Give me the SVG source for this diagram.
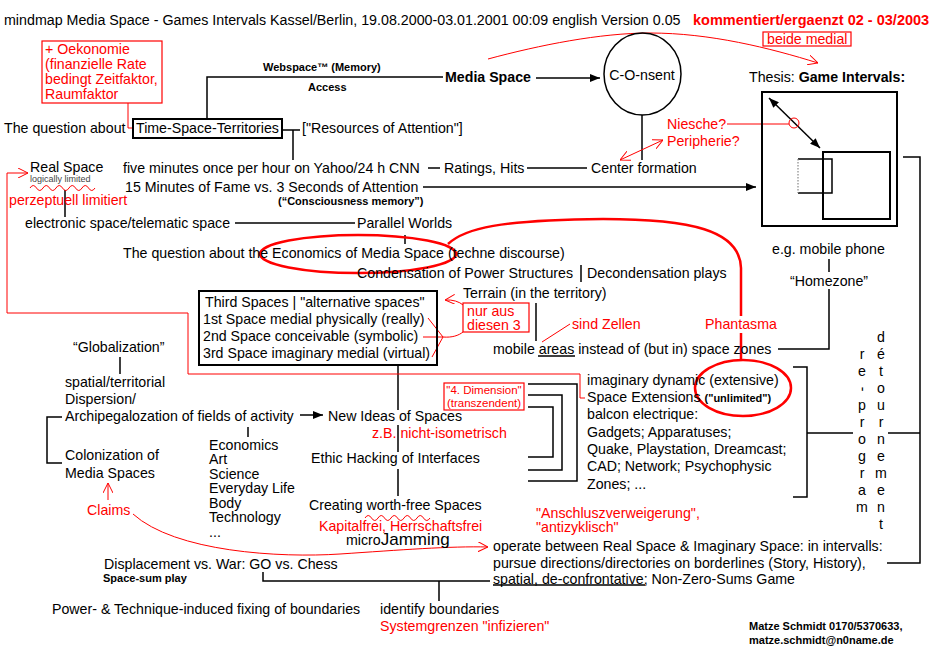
<svg xmlns="http://www.w3.org/2000/svg" width="936" height="658" viewBox="0 0 936 658">
<defs>
<style>
text{font-family:"Liberation Sans",Arial,Helvetica,sans-serif;font-size:14.2px;fill:#000}
.r{fill:#f00}
.b{font-weight:bold}
.tt{font-size:14.25px}
.rt{font-size:14.5px;font-weight:bold;fill:#f00}
.s{font-size:11px;font-weight:bold}
.d{font-size:11.5px}
.xs{font-size:9px;fill:#444}
.m{text-anchor:middle}
.ln{stroke:#000;stroke-width:1.5;fill:none}
.bx{stroke:#000;stroke-width:2;fill:none}
.rl{stroke:#f00;stroke-width:1;fill:none}
.re{stroke:#f00;stroke-width:2.5;fill:none}
.rb{stroke:#f00;stroke-width:1.2;fill:#fff}
</style>
<marker id="ah" viewBox="0 0 10 8" refX="10" refY="4" markerWidth="10" markerHeight="8" markerUnits="userSpaceOnUse" orient="auto-start-reverse"><path d="M0,0 L10,4 L0,8 z" fill="#000"/></marker>
<marker id="ra" viewBox="0 0 10 10" refX="10" refY="5" markerWidth="10" markerHeight="10" markerUnits="userSpaceOnUse" orient="auto-start-reverse"><path d="M0,0 L10,5 L0,10" fill="none" stroke="#f00" stroke-width="1"/></marker>
</defs>
<rect width="936" height="658" fill="#fff"/>

<g id="connectors">
<path class="ln" d="M207,119 V77 H443"/>
<path class="ln" d="M536,78 H600" marker-end="url(#ah)"/>
<path class="ln" d="M642,115 V160"/>
<path class="ln" d="M283,130 H300 M293,130 V160"/>
<path class="ln" d="M428,168 H440"/>
<path class="ln" d="M527,168 H587"/>
<path class="ln" d="M423,187 H756" marker-end="url(#ah)"/>
<path class="ln" d="M65,190 V217"/>
<path class="ln" d="M235,223 H355"/>
<path class="ln" d="M405,235 V244"/>
<path class="ln" d="M581,265 V282"/>
<path class="ln" d="M829,259 V272"/>
<path class="ln" d="M829,289 V349 H778"/>
<path class="ln" d="M536,303 V341"/>
<path class="ln" d="M398,365 V410 M398,425 V452 M398,469 V496"/>
<path class="ln" d="M120,357 V374"/>
<path class="ln" d="M300,415 H323" marker-end="url(#ah)"/>
<path class="ln" d="M62,417 H47 V463 H62"/>
<path class="ln" d="M248,427 V437"/>
<path class="ln" d="M528,384 H577 V481 H528 M528,395 H562 V470 H528 M528,407 H553 V457 H528"/>
<path class="ln" d="M793,367 H807 V497 H793 M807,433 H853"/>
<path class="ln" d="M888,433 H920 M903,157 H920 V563 H887"/>
<path class="ln" d="M263,572 V581 H490 M439,581 V601"/>
<path class="ln" d="M769,98 L820,148" marker-start="url(#ah)" marker-end="url(#ah)"/>
<path class="ln" d="M538,356 H575 M493,585 H645"/>
</g>

<g id="red-connectors">
<path class="rl" d="M128,103 V128 H133"/>
<path class="rl" d="M488,59 C540,45 600,33 650,33 C710,33 770,48 818,63" marker-end="url(#ra)"/>
<path class="rl" d="M727,124 H789"/>
<circle class="rl" cx="794" cy="123" r="5"/>
<path class="rl" d="M620,160 L663,140" marker-start="url(#ra)" marker-end="url(#ra)"/>
<path class="rl" d="M28,173 H7 V313 H188 V374 H580 V398 H585" marker-start="url(#ra)"/>
<ellipse class="re" cx="358" cy="254" rx="98" ry="19"/>
<path class="re" d="M448,244 C465,228 500,220 603,219 C690,219 740,230 741,268 V316 M741,333 V360"/>
<ellipse class="re" cx="743" cy="388" rx="48" ry="28"/>
<path class="rl" d="M428,318 L443,337 M423,337 H443 M432,357 L443,337"/>
<path class="rl" d="M443,337 C478,340 478,298 445,300" marker-end="url(#ra)"/>
<path class="rl" d="M542,342 L570,324"/>
<path class="rl" d="M108,500 V483" marker-end="url(#ra)"/>
<path class="rl" d="M133,514 C175,552 280,558 340,554 C400,550 450,546 488,547" marker-end="url(#ra)"/>
<path class="rl" d="M30,188 q3.25,-5 6.5,0 t6.5,0 t6.5,0 t6.5,0 t6.5,0 t6.5,0 t6.5,0 t6.5,0 t6.5,0 t6.5,0"/>
<path class="rl" d="M365,518 q3.25,-5 6.5,0 t6.5,0 t6.5,0 t6.5,0 t6.5,0 t6.5,0 t6.5,0 t6.5,0 t6.5,0 t6.5,0"/>
</g>

<g id="title">
<text class="tt" x="4" y="25">mindmap Media Space - Games Intervals Kassel/Berlin, 19.08.2000-03.01.2001 00:09 english Version 0.05</text>
<text class="rt" x="693" y="25">kommentiert/ergaenzt 02 - 03/2003</text>
</g>

<g id="oekonomie">
<rect class="rb" x="42" y="41" width="120" height="62"/>
<text class="r" x="45" y="54">+ Oekonomie</text>
<text class="r" x="45" y="69">(finanzielle Rate</text>
<text class="r" x="45" y="84">bedingt Zeitfaktor,</text>
<text class="r" x="45" y="99">Raumfaktor</text>
</g>

<g id="beide-medial">
<rect class="rb" x="763" y="32" width="88" height="14"/>
<text class="r" x="767" y="44">beide medial</text>
</g>

<g id="webspace">
<text class="s" x="263" y="71">Webspace™ (Memory)</text>
<text class="s" x="308" y="91">Access</text>
</g>

<g id="media-space"><text class="b" x="445" y="82">Media Space</text></g>

<g id="consent">
<ellipse cx="642.5" cy="74" rx="38.5" ry="41" fill="none" stroke="#000" stroke-width="1.5"/>
<text class="m" x="642" y="80">C-O-nsent</text>
</g>

<g id="thesis">
<text x="749" y="82">Thesis: <tspan class="b">Game Intervals:</tspan></text>
<rect class="bx" x="762" y="92" width="135" height="134"/>
<rect x="823" y="152" width="67" height="67" fill="none" stroke="#000" stroke-width="2"/>
<path d="M798,159 H832 V193 H798" fill="none" stroke="#000" stroke-width="1.5"/>
<path d="M798,159 V193" fill="none" stroke="#888" stroke-width="1.2" stroke-dasharray="1.5,1.5"/>
</g>

<g id="niesche">
<text class="r" x="667" y="129">Niesche?</text>
<text class="r" x="667" y="146">Peripherie?</text>
</g>

<g id="question-tst">
<text x="4" y="133">The question about</text>
<rect class="bx" x="133" y="119" width="149" height="19"/>
<text x="136" y="133">Time-Space-Territories</text>
<text x="302" y="133">["Resources of Attention"]</text>
</g>

<g id="real-space">
<text x="30" y="172">Real Space</text>
<text class="xs" x="30" y="182">logically limited</text>
<text class="r" x="9" y="205">perzeptuell limitiert</text>
</g>

<g id="five-minutes">
<text x="123" y="173">five minutes once per hour on Yahoo/24 h CNN</text>
<text x="444" y="173">Ratings, Hits</text>
<text x="591" y="173">Center formation</text>
</g>

<g id="fifteen-minutes">
<text x="125" y="192">15 Minutes of Fame vs. 3 Seconds of Attention</text>
<text class="s" x="278" y="205">(“Consciousness memory”)</text>
</g>

<g id="electronic">
<text x="25" y="228">electronic space/telematic space</text>
<text x="357" y="228">Parallel Worlds</text>
</g>

<g id="economics"><text x="123" y="258">The question about the Economics of Media Space (techne discourse)</text></g>

<g id="condensation">
<text x="357" y="278">Condensation of Power Structures</text>
<text x="587" y="278">Decondensation plays</text>
</g>

<g id="mobile-phone">
<text x="772" y="254">e.g. mobile phone</text>
<text class="m" x="829" y="286">“Homezone”</text>
</g>

<g id="terrain"><text x="463" y="298">Terrain (in the territory)</text></g>

<g id="nur-aus">
<rect class="rb" x="463" y="303" width="66" height="29"/>
<text class="r" x="467" y="316">nur aus</text>
<text class="r" x="467" y="330">diesen 3</text>
</g>

<g id="sind-zellen"><text class="r" x="572" y="329">sind Zellen</text></g>
<g id="phantasma"><text class="r m" x="741" y="329">Phantasma</text></g>

<g id="mobile-areas"><text x="493" y="354">mobile areas instead of (but in) space zones</text></g>

<g id="third-spaces">
<rect class="bx" x="199" y="291" width="238" height="74"/>
<text x="205" y="307">Third Spaces | "alternative spaces"</text>
<text x="203" y="324">1st Space medial physically (really)</text>
<text x="203" y="341">2nd Space conceivable (symbolic)</text>
<text x="203" y="358">3rd Space imaginary medial (virtual)</text>
</g>

<g id="globalization">
<text x="73" y="352">“Globalization”</text>
<text x="65" y="387">spatial/territorial</text>
<text x="65" y="404">Dispersion/</text>
<text x="65" y="421">Archipegalozation of fields of activity</text>
</g>

<g id="new-ideas">
<text x="328" y="421">New Ideas of Spaces</text>
<text class="r" x="372" y="438">z.B. nicht-isometrisch</text>
</g>

<g id="dimension">
<rect class="rb" x="444" y="383" width="80" height="27"/>
<text class="r m d" x="484" y="394">"4. Dimension"</text>
<text class="r m d" x="484" y="407">(transzendent)</text>
</g>

<g id="imaginary">
<text x="587" y="385">imaginary dynamic (extensive)</text>
<text x="587" y="402">Space Extensions <tspan class="s">("unlimited")</tspan></text>
<text x="587" y="419">balcon electrique:</text>
<text x="587" y="437">Gadgets; Apparatuses;</text>
<text x="587" y="454">Quake, Playstation, Dreamcast;</text>
<text x="587" y="471">CAD; Network; Psychophysic</text>
<text x="587" y="489">Zones; ...</text>
</g>

<g id="re-program">
<text class="m" x="862" y="359">r</text>
<text class="m" x="862" y="376">e</text>
<text class="m" x="862" y="393" transform="rotate(90 862 389)">-</text>
<text class="m" x="862" y="410">p</text>
<text class="m" x="862" y="427">r</text>
<text class="m" x="862" y="444">o</text>
<text class="m" x="862" y="461">g</text>
<text class="m" x="862" y="478">r</text>
<text class="m" x="862" y="495">a</text>
<text class="m" x="862" y="512">m</text>
</g>

<g id="detournement">
<text class="m" x="881" y="342">d</text>
<text class="m" x="881" y="359">é</text>
<text class="m" x="881" y="376">t</text>
<text class="m" x="881" y="393">o</text>
<text class="m" x="881" y="410">u</text>
<text class="m" x="881" y="427">r</text>
<text class="m" x="881" y="444">n</text>
<text class="m" x="881" y="461">e</text>
<text class="m" x="881" y="478">m</text>
<text class="m" x="881" y="495">e</text>
<text class="m" x="881" y="512">n</text>
<text class="m" x="881" y="529">t</text>
</g>

<g id="colonization">
<text x="65" y="460">Colonization of</text>
<text x="65" y="478">Media Spaces</text>
<text class="r" x="87" y="515">Claims</text>
</g>

<g id="fields">
<text x="209" y="450">Economics</text>
<text x="209" y="464">Art</text>
<text x="209" y="479">Science</text>
<text x="209" y="493">Everyday Life</text>
<text x="209" y="508">Body</text>
<text x="209" y="522">Technology</text>
<text x="209" y="537">...</text>
</g>

<g id="ethic-hacking"><text x="311" y="463">Ethic Hacking of Interfaces</text></g>

<g id="worth-free">
<text x="309" y="510">Creating worth-free Spaces</text>
<text class="r" x="319" y="531">Kapitalfrei, Herrschaftsfrei</text>
<text x="346" y="545">micro<tspan font-size="17">Jamming</tspan></text>
</g>

<g id="anschlusz">
<text class="r" x="536" y="518">"Anschluszverweigerung",</text>
<text class="r" x="536" y="532">"antizyklisch"</text>
</g>

<g id="operate">
<text x="493" y="551">operate between Real Space &amp; Imaginary Space: in intervalls:</text>
<text x="493" y="568">pursue directions/directories on borderlines (Story, History),</text>
<text x="493" y="584">spatial, de-confrontative; Non-Zero-Sums Game</text>
</g>

<g id="displacement">
<text x="104" y="569">Displacement vs. War: GO vs. Chess</text>
<text class="s" x="103" y="582">Space-sum play</text>
</g>

<g id="power"><text x="52" y="614">Power- &amp; Technique-induced fixing of boundaries</text></g>

<g id="identify">
<text x="380" y="614">identify boundaries</text>
<text class="r" x="380" y="631">Systemgrenzen "infizieren"</text>
</g>

<g id="author">
<text class="s" x="749" y="630">Matze Schmidt 0170/5370633,</text>
<text class="s" x="749" y="644">matze.schmidt@n0name.de</text>
</g>
</svg>
